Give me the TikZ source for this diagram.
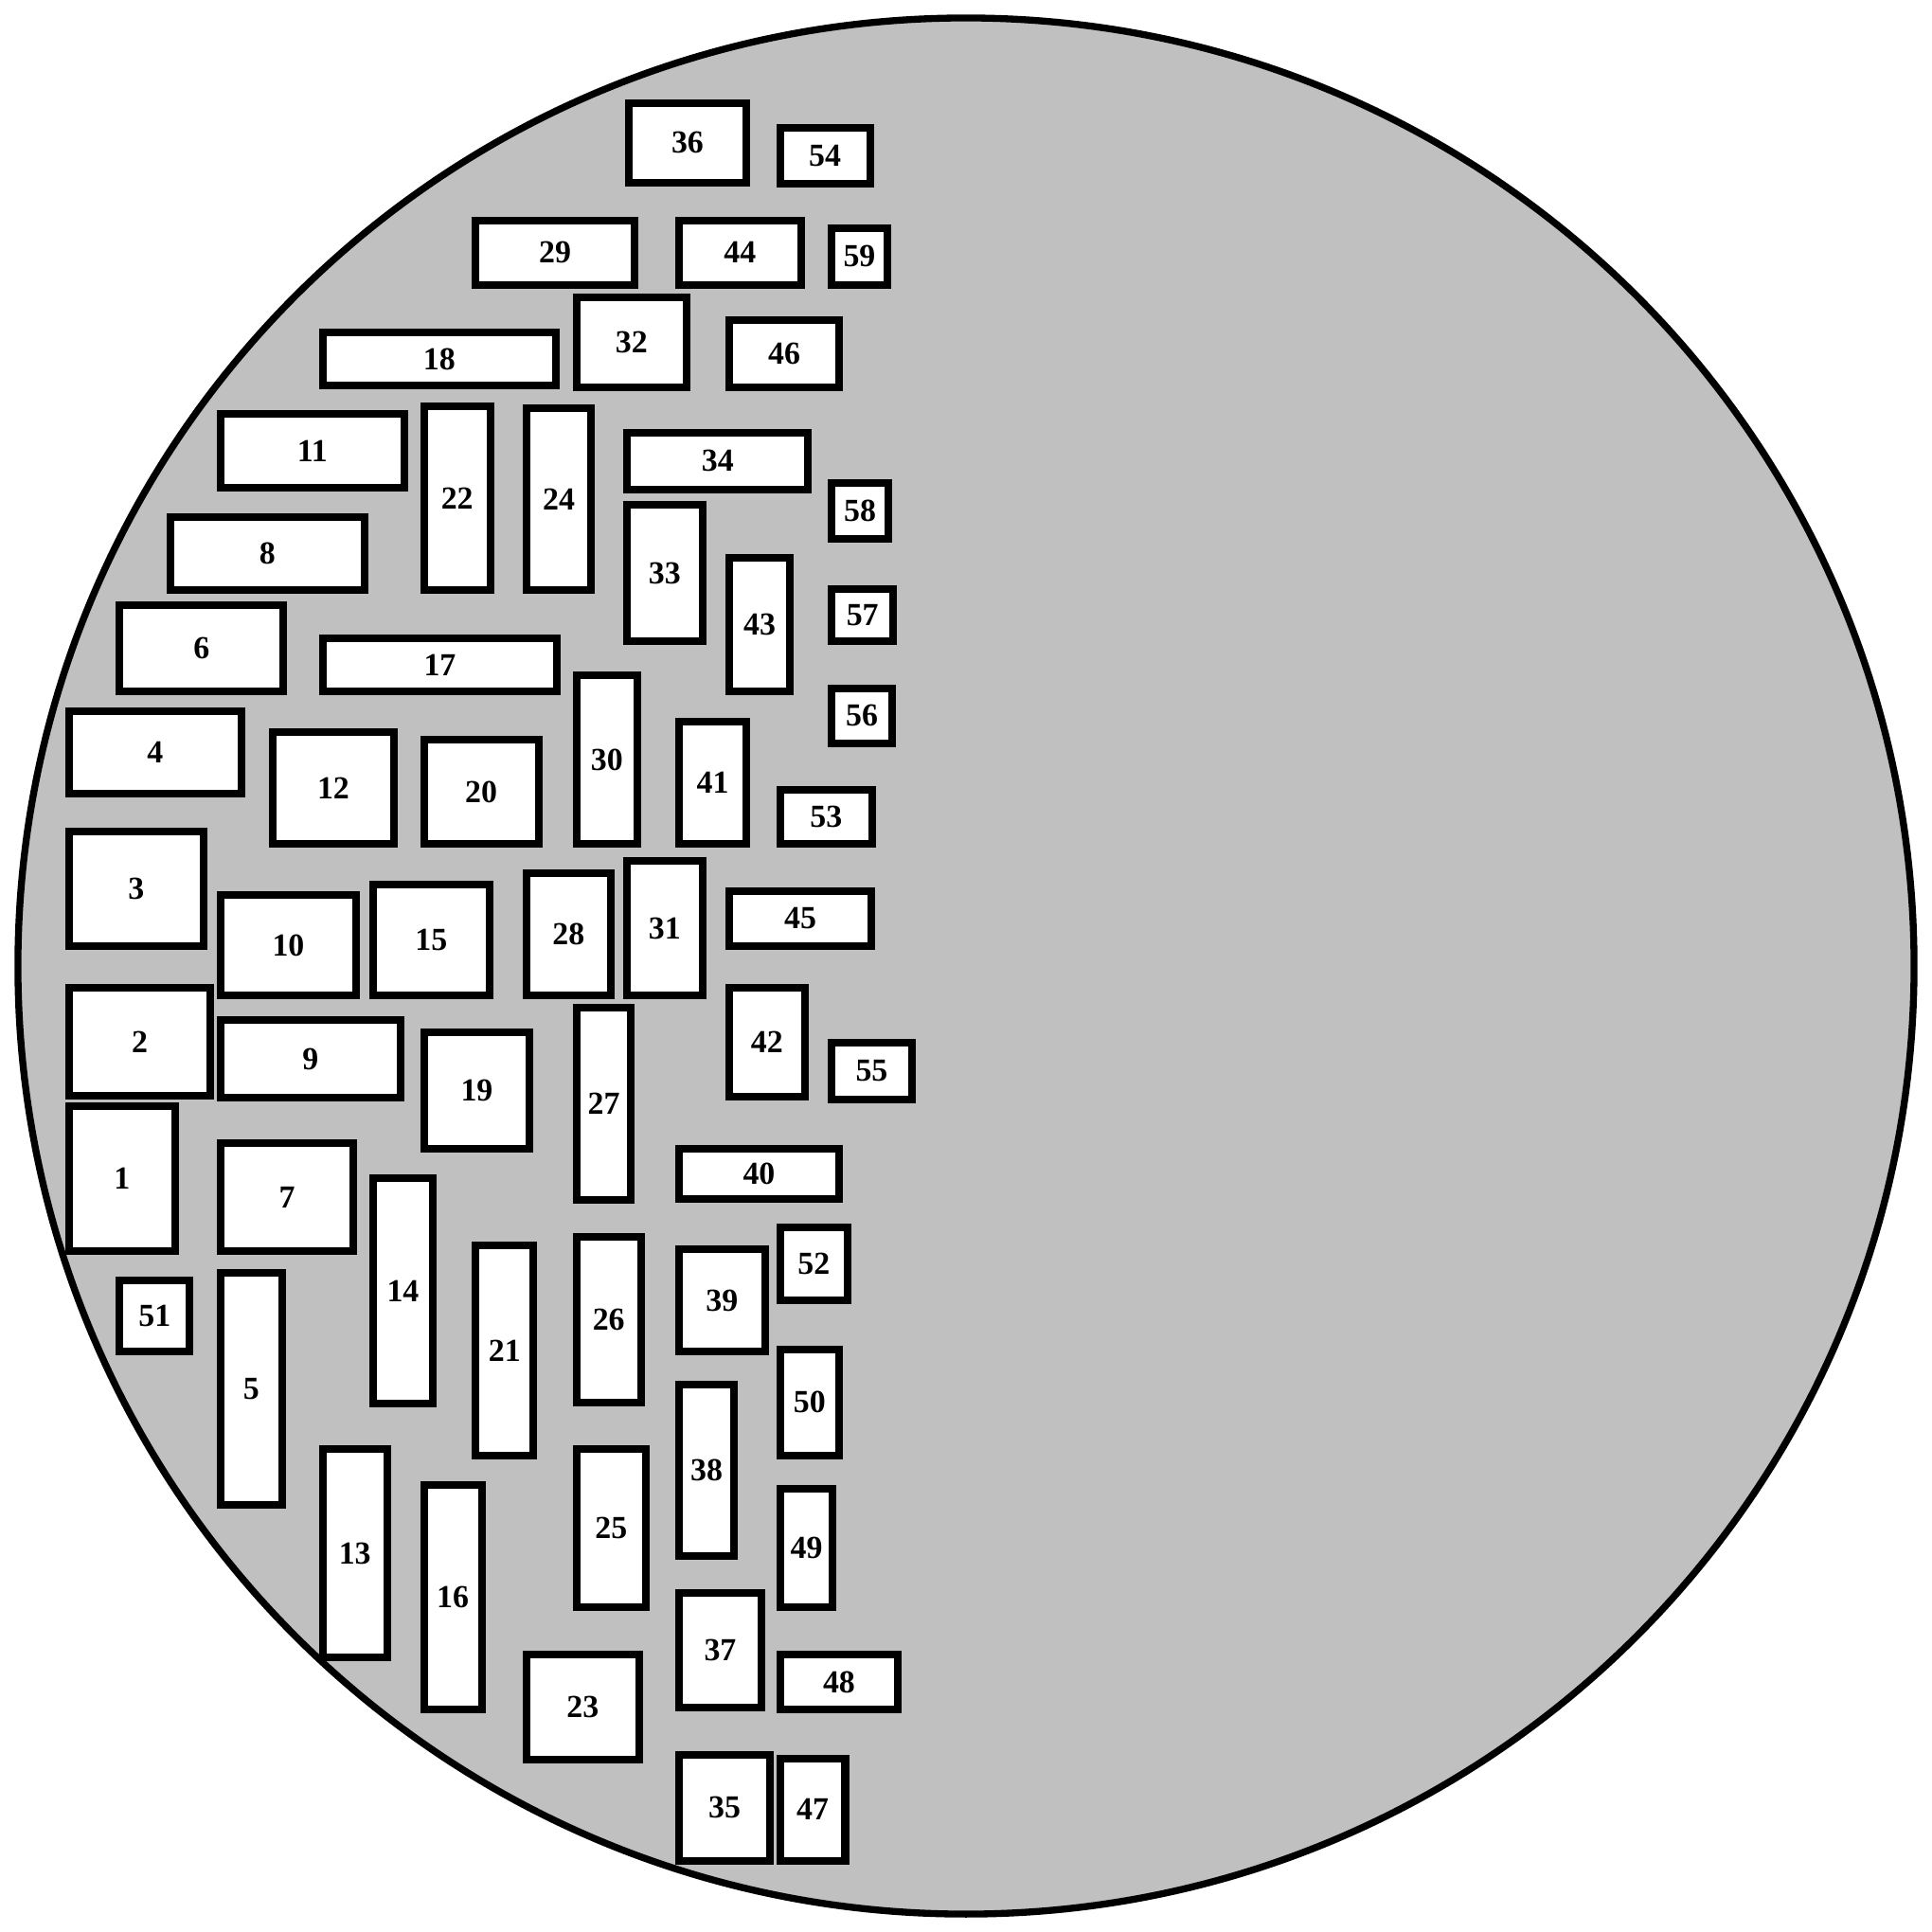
\documentclass[tikz,border=0pt]{standalone}
\usepackage{fontspec}
\setmainfont{Liberation Serif}
\definecolor{boxgrey}{RGB}{192,192,192}
\tikzset{
  fusebox/.style={draw=black, fill=white, line width=1.75pt, inner sep=0pt, outer sep=0pt,
    font=\fontsize{7.4}{8}\selectfont\bfseries},
  housing/.style={draw=black, fill=boxgrey, line width=1.6pt}
}
\newcommand\fuse[5]{%
  \node[fusebox, minimum width={(#4-#2)*0.01cm}, minimum height={(#5-#3)*0.01cm}]
    (f#1) at ({(#2+#4)/2},{(#3+#5)/2}) {#1};}
\begin{document}
\begin{tikzpicture}[x=0.01cm, y=-0.01cm]
\useasboundingbox (0,0) rectangle (1568,1568);
\node[housing, circle, minimum size=15.38cm, inner sep=0pt] (housing) at (784,784) {};
\fuse{36}{510}{84}{606}{148}
\fuse{54}{633}{104}{706}{149}
\fuse{29}{386}{179}{515}{231}
\fuse{44}{551}{179}{650}{231}
\fuse{59}{675}{185}{720}{231}
\fuse{32}{468}{241}{557}{314}
\fuse{46}{592}{260}{681}{314}
\fuse{18}{262}{270}{451}{313}
\fuse{11}{179}{336}{328}{396}
\fuse{22}{344}{330}{398}{479}
\fuse{24}{427}{331}{480}{479}
\fuse{34}{509}{351}{656}{397}
\fuse{58}{675}{392}{721}{437}
\fuse{8}{138}{420}{296}{479}
\fuse{33}{509}{410}{570}{520}
\fuse{43}{592}{453}{641}{561}
\fuse{57}{675}{478}{725}{520}
\fuse{6}{97}{491}{230}{561}
\fuse{17}{262}{518}{452}{561}
\fuse{30}{468}{548}{517}{685}
\fuse{56}{675}{559}{724}{603}
\fuse{4}{56}{577}{196}{644}
\fuse{12}{221}{594}{320}{685}
\fuse{20}{344}{600}{437}{685}
\fuse{41}{551}{586}{606}{685}
\fuse{53}{633}{641}{708}{685}
\fuse{3}{56}{675}{165}{768}
\fuse{10}{179}{726}{289}{808}
\fuse{15}{303}{718}{397}{808}
\fuse{28}{427}{709}{496}{808}
\fuse{31}{509}{699}{570}{808}
\fuse{45}{592}{723}{707}{768}
\fuse{2}{56}{802}{171}{889}
\fuse{9}{179}{828}{325}{891}
\fuse{19}{344}{838}{430}{932}
\fuse{27}{468}{818}{512}{974}
\fuse{42}{592}{802}{653}{890}
\fuse{55}{675}{846}{740}{892}
\fuse{1}{56}{898}{142}{1015}
\fuse{7}{179}{928}{287}{1015}
\fuse{14}{303}{956}{351}{1139}
\fuse{40}{551}{932}{681}{973}
\fuse{52}{633}{996}{688}{1055}
\fuse{39}{551}{1014}{621}{1097}
\fuse{51}{97}{1039}{154}{1097}
\fuse{5}{179}{1033}{229}{1221}
\fuse{21}{386}{1011}{433}{1181}
\fuse{26}{468}{1004}{520}{1138}
\fuse{50}{633}{1095}{681}{1181}
\fuse{38}{551}{1124}{596}{1263}
\fuse{13}{262}{1176}{314}{1345}
\fuse{16}{344}{1205}{391}{1387}
\fuse{25}{468}{1176}{524}{1304}
\fuse{49}{633}{1208}{676}{1304}
\fuse{37}{551}{1293}{618}{1386}
\fuse{48}{633}{1343}{729}{1387}
\fuse{23}{427}{1343}{519}{1428}
\fuse{35}{551}{1424}{625}{1510}
\fuse{47}{633}{1427}{686}{1510}
\end{tikzpicture}
\end{document}
